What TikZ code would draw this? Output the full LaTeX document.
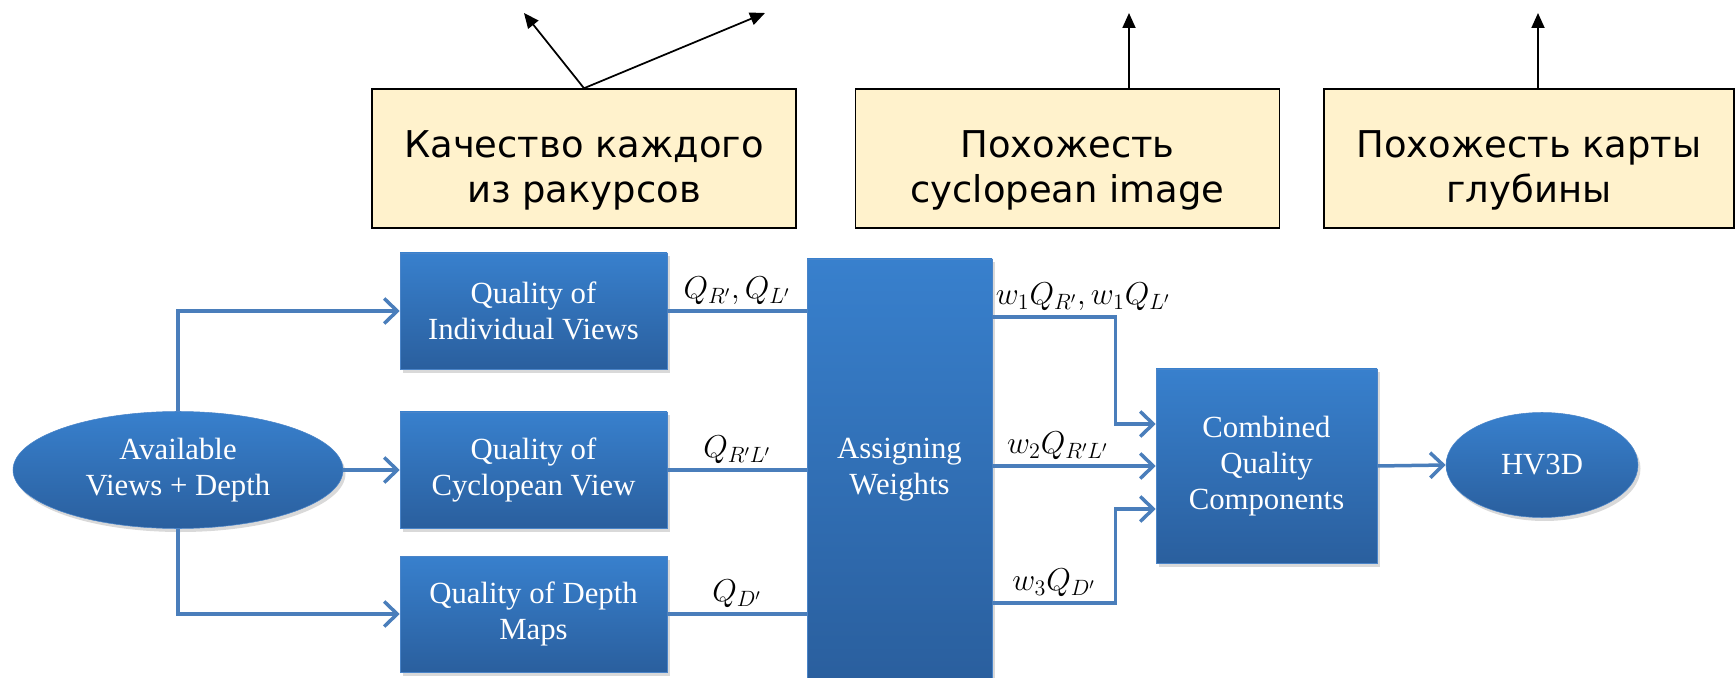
\documentclass[tikz,border=0pt]{standalone}
\usepackage{fix-cm}
\usepackage{fontspec}
\setmainfont{Liberation Serif}
\newfontfamily\notefont{DejaVu Sans}
\usetikzlibrary{arrows.meta,shapes.geometric,shadows}

\definecolor{boxtop}{RGB}{56,128,205}
\definecolor{boxbot}{RGB}{42,95,158}
\definecolor{boxedge}{RGB}{74,132,200}
\definecolor{flowblue}{RGB}{74,126,187}
\definecolor{notefill}{RGB}{255,242,204}

% extra room above the first line of a note
\newcommand{\notetop}{\rule{0pt}{29pt}}

\begin{document}
\begin{tikzpicture}[x=0.2mm, y=-0.2mm,
    stage/.style={rectangle, top color=boxtop, bottom color=boxbot, draw=boxedge,
      line width=0.3pt, text=white, align=center, inner sep=0pt,
      font=\fontsize{17.5}{20.5}\selectfont,
      drop shadow={shadow xshift=0.5mm, shadow yshift=-0.7mm, opacity=0.3}},
    source/.style={stage, ellipse},
    qbox/.style={minimum width=53.4mm, minimum height=23.2mm},
    feed/.style={draw=flowblue, line width=0.7mm},
    flow/.style={feed, -{Straight Barb[length=2.6mm, width=5mm]}},
    note/.style={rectangle, fill=notefill, draw=black, line width=0.3mm, align=center,
      minimum width=84.8mm, minimum height=27.8mm,
      font=\notefont\fontsize{21}{26}\selectfont},
    pointer/.style={black, line width=0.35mm, -{Triangle[length=3mm, width=2.6mm]}},
    wlabel/.style={font=\fontsize{18}{20}\selectfont, inner sep=2.5pt}]
\useasboundingbox (0,0) rectangle (1735,678);

%%% notes on top
\node[note] (views) at (584,158.5) {\notetop Качество каждого\\из ракурсов};
\node[note] (cyclo) at (1067.5,158.5) {\notetop Похожесть\\cyclopean image};
\node[note, minimum width=82mm] (depthmap) at (1529,158.5) {\notetop Похожесть карты\\глубины};

\coordinate (v1) at (524,13);
\coordinate (v2) at (765,13);
\coordinate (c1) at (1129,13);
\coordinate (d1) at (1538,13);

\draw[pointer] (views.north) -- (v1);
\draw[pointer] (views.north) -- (v2);
\draw[pointer] (cyclo.north -| c1) -- (c1);
\draw[pointer] (depthmap.north -| d1) -- (d1);

%%% pipeline
\node[source, minimum width=66mm, minimum height=23.4mm] (input) at (178,470) {Available\\Views + Depth};

\node[stage, qbox] (qind) at (533.5,311) {Quality of\\Individual Views};
\node[stage, qbox] (qcyc) at (533.5,470) {Quality of\\Cyclopean View};
\node[stage, qbox] (qdep) at (533.5,614) {Quality of Depth\\Maps};

\node[stage, minimum width=37mm, minimum height=84.2mm] (assign) at (899.5,469.5) {Assigning\\Weights};
\node[stage, minimum width=44.2mm, minimum height=38.8mm] (comb) at (1266.5,466) {Combined\\Quality\\Components};
\node[source, minimum width=38.4mm, minimum height=21mm] (hv) at (1542,465) {HV3D};

% input to the three measures
\draw[flow] (input.north) |- (qind.west);
\draw[flow] (input.east) -- (qcyc.west);
\draw[flow] (input.south) |- (qdep.west);

% measures into the weighting block
\draw[feed] (qind.east) -- (assign.west |- qind.east)
  node[midway, above, wlabel] {$Q_{R'},Q_{L'}$};
\draw[feed] (qcyc.east) -- (assign.west |- qcyc.east)
  node[midway, above, wlabel] {$Q_{R'L'}$};
\draw[feed] (qdep.east) -- (assign.west |- qdep.east)
  node[midway, above, wlabel] {$Q_{D'}$};

% weighted terms into the combination
\draw[flow] ([yshift=30.5mm]assign.east) node[above right, wlabel, inner xsep=1pt] {$w_1Q_{R'},w_1Q_{L'}$}
  -| ([xshift=-8mm, yshift=8.4mm]comb.west) -- ([yshift=8.4mm]comb.west);
\draw[flow] (assign.east |- comb.west) -- (comb.west)
  node[pos=0.4, above, wlabel] {$w_2Q_{R'L'}$};
\draw[flow] ([yshift=-26.7mm]assign.east)
  -| ([xshift=-8mm, yshift=-8.6mm]comb.west) node[pos=0.25, above, wlabel] {$w_3Q_{D'}$}
  -- ([yshift=-8.6mm]comb.west);

\draw[flow] (comb.east) -- (hv.west);
\end{tikzpicture}
\end{document}
